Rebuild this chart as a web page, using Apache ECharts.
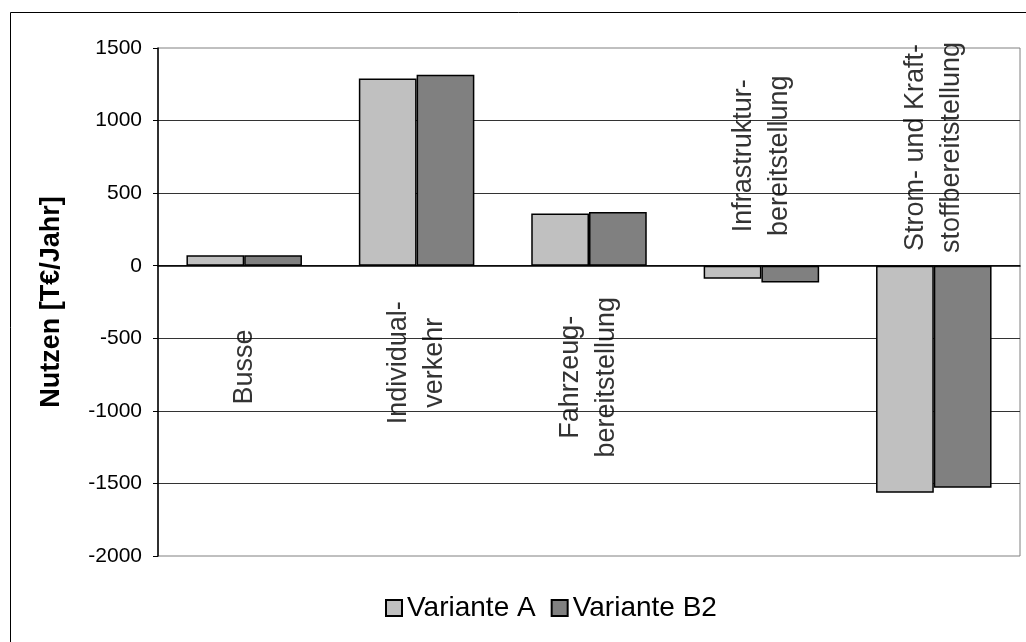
<!DOCTYPE html>
<html>
<head>
<meta charset="utf-8">
<script src="https://cdn.jsdelivr.net/npm/echarts@6/dist/echarts.min.js"></script>
<style>
  html, body { margin: 0; padding: 0; background: #fff; }
  #chart { width: 1026px; height: 642px; }
</style>
</head>
<body>
<div id="chart"></div>
<script>
// Nutzen je Bereich, Variante A vs. Variante B2
const categories = ['Busse', 'Individualverkehr', 'Fahrzeugbereitstellung', 'Infrastrukturbereitstellung', 'Strom- und Kraftstoffbereitstellung'];
const categoryLabels = ['Busse', 'Individual-\nverkehr', 'Fahrzeug-\nbereitstellung', 'Infrastruktur-\nbereitstellung', 'Strom- und Kraft-\nstoffbereitstellung'];
const varianteA = [72, 1290, 360, -90, -1565];
const varianteB2 = [72, 1315, 370, -115, -1530];
const yTicks = { min: -2000, max: 1500, interval: 500 };
const seriesNames = ['Variante A', 'Variante B2'];

// where each category caption sits, in axis units, plus a small sideways nudge
const captionAnchor = [-650, -655, -830, 785, 780];
const captionNudge = [-7, -2, 9, -4, 5];

const FONT = "'Liberation Sans', Arial, sans-serif";
const chart = echarts.init(document.getElementById('chart'), null, { renderer: 'canvas' });

const barStyle = (color) => ({ color: color, borderColor: '#000', borderWidth: 1.5 });

chart.setOption({
  backgroundColor: '#fff',
  animation: false,
  textStyle: { fontFamily: FONT },
  graphic: [{
    type: 'rect', left: 8, top: 10, silent: true, z: -10,
    shape: { width: 1040, height: 660 },
    style: { fill: 'none', stroke: '#000', lineWidth: 1 }
  }],
  grid: {
    left: 158, right: 6, top: 48, bottom: 86,
    show: true, borderColor: '#808080', borderWidth: 1, backgroundColor: 'transparent'
  },
  legend: {
    data: seriesNames,
    left: 380, top: 589,
    icon: 'rect', itemWidth: 16, itemHeight: 16, itemGap: 15,
    textStyle: { fontSize: 28, color: '#000', fontFamily: FONT }
  },
  xAxis: {
    type: 'category',
    data: categories,
    position: 'bottom',
    axisLine: { onZero: true, lineStyle: { color: '#000', width: 1.5 } },
    axisTick: { show: false },
    axisLabel: { show: false },
    splitLine: { show: false }
  },
  yAxis: {
    type: 'value',
    min: yTicks.min, max: yTicks.max, interval: yTicks.interval,
    name: 'Nutzen [T€/Jahr]',
    nameLocation: 'middle',
    nameGap: 93,
    nameTextStyle: { fontSize: 27, fontWeight: 'bold', color: '#000', fontFamily: FONT },
    axisLine: { show: true, lineStyle: { color: '#000', width: 1.5 } },
    axisTick: { show: true, length: 5, lineStyle: { color: '#000' } },
    axisLabel: { fontSize: 21, color: '#000', margin: 16, fontFamily: FONT, formatter: (v) => String(v) },
    splitLine: { show: true, showMinLine: false, showMaxLine: false, lineStyle: { color: '#333', width: 1 } }
  },
  series: [
    {
      name: seriesNames[0], type: 'bar', data: varianteA,
      barGap: '0%', barCategoryGap: '33%',
      itemStyle: barStyle('#C0C0C0')
    },
    {
      name: seriesNames[1], type: 'bar', data: varianteB2,
      barGap: '0%', barCategoryGap: '33%',
      itemStyle: barStyle('#808080')
    },
    {
      name: 'captions', type: 'scatter', symbolSize: 0, silent: true, z: 5,
      data: categories.map((c, i) => ({
        value: [c, captionAnchor[i]],
        label: { offset: [captionNudge[i], 0] }
      })),
      label: {
        show: true,
        position: 'inside',
        rotate: 90,
        align: 'center',
        verticalAlign: 'middle',
        fontSize: 27,
        lineHeight: 36,
        color: '#000',
        fontFamily: FONT,
        formatter: (p) => categoryLabels[p.dataIndex]
      }
    }
  ]
});
</script>
</body>
</html>
